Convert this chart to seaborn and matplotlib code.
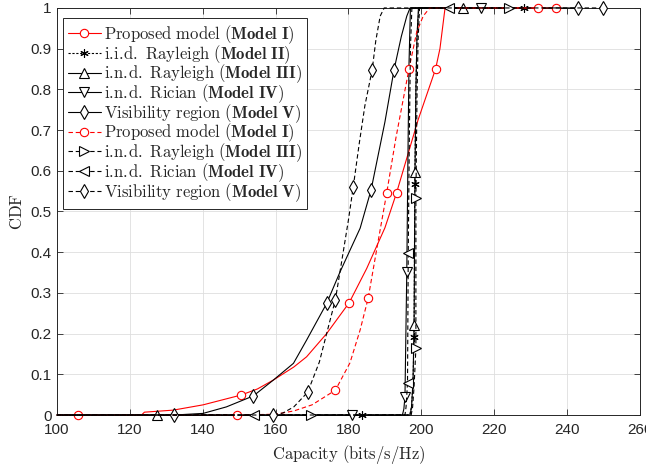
import matplotlib
matplotlib.use("Agg")
import matplotlib.pyplot as plt
from matplotlib.lines import Line2D
import seaborn as sns

# Model I, proposed model (solid)
m1_x = [100, 105.9, 123.2, 124.0, 131.9, 140.1, 150.5, 155.0, 159.4, 165.0, 168.5,
        174.0, 180.2, 185.0, 190.0, 193.2, 199.1, 203.9, 205.1, 206.5, 237.0]
m1_y = [0, 0, 0, 0.007, 0.012, 0.025, 0.049, 0.064, 0.086, 0.118, 0.143,
        0.2, 0.276, 0.36, 0.46, 0.546, 0.725, 0.85, 0.9, 1.0, 1.0]
m1_marks = [1, 6, 12, 15, 17, 20]

# Model II, i.i.d. Rayleigh
m2_x = [100, 183.6, 196.8, 197.3, 197.7, 198.0, 198.2, 198.5, 198.8, 199.3, 228.2]
m2_y = [0, 0, 0, 0.02, 0.08, 0.192, 0.567, 0.8, 0.93, 1.0, 1.0]
m2_marks = [1, 5, 6, 10]

# Model III, i.n.d. Rayleigh (solid)
m3_x = [100, 127.4, 196.9, 197.3, 197.7, 198.0, 198.25, 198.5, 198.8, 199.2, 211.3]
m3_y = [0, 0, 0, 0.02, 0.08, 0.221, 0.598, 0.8, 0.93, 1.0, 1.0]
m3_marks = [1, 5, 6, 10]

# Model IV, i.n.d. Rician (solid)
m4_x = [100, 181.0, 194.8, 195.2, 195.5, 196.0, 196.3, 196.6, 197.0, 216.5]
m4_y = [0, 0, 0, 0.015, 0.045, 0.352, 0.62, 0.86, 1.0, 1.0]
m4_marks = [1, 4, 5, 9]

# Model V, visibility region (solid)
m5_x = [100, 132.2, 140.1, 146.5, 153.9, 159.4, 164.9, 168.5, 174.0, 177.7, 183.2,
        186.2, 190.0, 192.5, 194.5, 196.0, 196.9, 243.0]
m5_y = [0, 0, 0.004, 0.02, 0.047, 0.086, 0.127, 0.184, 0.274, 0.352, 0.459,
        0.553, 0.72, 0.848, 0.93, 0.98, 1.0, 1.0]
m5_marks = [1, 4, 8, 11, 13, 17]

# Model I dashed
d1_x = [100, 149.4, 160.0, 165.0, 170.0, 176.4, 180.4, 183.2, 185.4, 188.0, 190.5,
        193.0, 196.6, 198.7, 200.5, 202.3, 232.1]
d1_y = [0, 0, 0.002, 0.01, 0.025, 0.061, 0.128, 0.209, 0.287, 0.42, 0.546,
        0.68, 0.85, 0.94, 0.98, 1.0, 1.0]
d1_marks = [1, 5, 8, 10, 12, 16]

# Model III dashed
d3_x = [100, 169.6, 197.2, 197.6, 198.0, 198.5, 198.5, 198.8, 199.1, 199.5, 224.1]
d3_y = [0, 0, 0, 0.02, 0.07, 0.164, 0.532, 0.78, 0.92, 1.0, 1.0]
d3_marks = [1, 5, 6, 10]

# Model IV dashed
d4_x = [100, 154.1, 195.5, 195.8, 196.2, 196.4, 196.7, 197.0, 197.4, 207.6]
d4_y = [0, 0, 0, 0.02, 0.078, 0.397, 0.68, 0.9, 1.0, 1.0]
d4_marks = [1, 4, 5, 9]

# Model V dashed
d5_x = [100, 159.3, 162.0, 165.0, 168.8, 172.0, 174.0, 176.4, 178.0, 180.0, 181.3,
        183.0, 184.5, 186.5, 187.5, 188.7, 189.8, 249.8]
d5_y = [0, 0, 0.005, 0.02, 0.056, 0.13, 0.2, 0.283, 0.37, 0.48, 0.56,
        0.67, 0.76, 0.848, 0.92, 0.98, 1.0, 1.0]
d5_marks = [1, 4, 7, 10, 13, 17]

labels = [
    r"$\mathrm{Proposed\ model\ (}\mathbf{Model\ I}\mathrm{)}$",
    r"$\mathrm{i.\!i.\!d.\ Rayleigh\ (}\mathbf{Model\ II}\mathrm{)}$",
    r"$\mathrm{i.\!n.\!d.\ Rayleigh\ (}\mathbf{Model\ III}\mathrm{)}$",
    r"$\mathrm{i.\!n.\!d.\ Rician\ (}\mathbf{Model\ IV}\mathrm{)}$",
    r"$\mathrm{Visibility\ region\ (}\mathbf{Model\ V}\mathrm{)}$",
    r"$\mathrm{Proposed\ model\ (}\mathbf{Model\ I}\mathrm{)}$",
    r"$\mathrm{i.\!n.\!d.\ Rayleigh\ (}\mathbf{Model\ III}\mathrm{)}$",
    r"$\mathrm{i.\!n.\!d.\ Rician\ (}\mathbf{Model\ IV}\mathrm{)}$",
    r"$\mathrm{Visibility\ region\ (}\mathbf{Model\ V}\mathrm{)}$",
]

sns.set_style("ticks")
plt.rcParams['font.family'] = ['Liberation Sans', 'DejaVu Sans']
plt.rcParams['mathtext.fontset'] = 'cm'

RED = '#ff0000'
BLK = '#000000'
solid = '-'
dashed = (0, (4, 2.5))
dotted = (0, (2, 1.5))
star = (6, 2, 0)

series = [
    (m1_x, m1_y, m1_marks, RED, 'o', solid, 6),
    (m2_x, m2_y, m2_marks, BLK, star, dotted, 6),
    (m3_x, m3_y, m3_marks, BLK, '^', solid, 6.5),
    (m4_x, m4_y, m4_marks, BLK, 'v', solid, 6.5),
    (m5_x, m5_y, m5_marks, BLK, 'd', solid, 7),
    (d1_x, d1_y, d1_marks, RED, 'o', dashed, 6),
    (d3_x, d3_y, d3_marks, BLK, '>', dashed, 6.5),
    (d4_x, d4_y, d4_marks, BLK, '<', dashed, 6.5),
    (d5_x, d5_y, d5_marks, BLK, 'd', dashed, 7),
]

fig, ax = plt.subplots(figsize=(6.46, 4.68), dpi=100)
fig.subplots_adjust(left=0.0882, right=0.9907, top=0.983, bottom=0.1132)

handles = []
for (x, y, marks, col, mk, ls, ms), lab in zip(series, labels):
    sns.lineplot(x=x, y=y, ax=ax, estimator=None, sort=False, color=col,
                 linestyle=ls, lw=0.8, marker=mk, markevery=marks,
                 markersize=ms, markerfacecolor='white', markeredgecolor=col,
                 markeredgewidth=0.8, clip_on=False, zorder=3)
    handles.append(Line2D([0], [0], color=col, linestyle=ls, lw=0.8, marker=mk,
                          markersize=ms, markerfacecolor='white',
                          markeredgecolor=col, markeredgewidth=0.8, label=lab))

ax.set_xlim(100, 260)
ax.set_ylim(0, 1)
ax.set_xticks(range(100, 261, 20))
yt = [i / 10 for i in range(11)]
ax.set_yticks(yt)
ax.set_yticklabels(['0'] + [f"{v:.1f}" for v in yt[1:-1]] + ['1'])
ax.grid(True, color='#dedede', lw=0.6)
ax.set_axisbelow(True)
ax.tick_params(direction='in', top=True, right=True, length=4, width=0.6,
               colors='#262626', labelsize=11)
ax.tick_params(axis='x', pad=6)
ax.tick_params(axis='y', pad=4)
for s in ax.spines.values():
    s.set_color('#262626')
    s.set_linewidth(0.7)

ax.set_xlabel(r"$\mathrm{Capacity\ (bits/s/Hz)}$", fontsize=12, color='#262626', labelpad=4)
ax.set_ylabel(r"$\mathrm{CDF}$", fontsize=12, color='#262626', labelpad=4)

leg = ax.legend(handles=handles, loc='upper left', bbox_to_anchor=(0.01, 0.975),
                fontsize=12, frameon=True, fancybox=False, framealpha=1,
                edgecolor='#262626', handlelength=2.0, handletextpad=0.15,
                labelspacing=-0.18, borderpad=0.3, borderaxespad=0)
leg.get_frame().set_linewidth(0.7)
leg.set_zorder(5)

fig.savefig("out.png", dpi=100)
